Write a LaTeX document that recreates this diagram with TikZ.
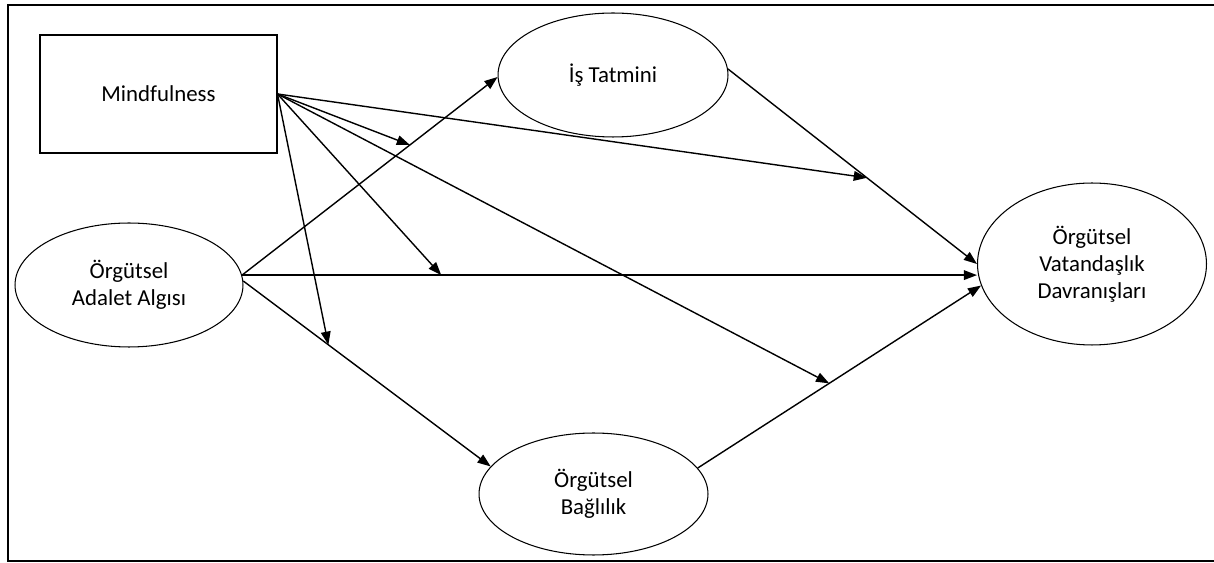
\documentclass[tikz,border=0pt]{standalone}
\usepackage{fontspec}
\setmainfont{Carlito}
\usetikzlibrary{arrows.meta,shapes.geometric}
\begin{document}
\begin{tikzpicture}[x=0.02cm,y=-0.02cm,
   var/.style={ellipse,draw,line width=0.6pt,inner sep=0pt,align=center,
      font=\fontsize{13}{15.5}\selectfont},
   box/.style={rectangle,draw,line width=0.6pt,inner sep=0pt,
      font=\fontsize{13}{15.5}\selectfont},
   link/.style={line width=0.8pt,-{Triangle[length=7.5pt,width=5.5pt]}}]
   \useasboundingbox (0,0) rectangle (1214,563);
   \draw[line width=1.2pt] (1214,5) -- (8,5) -- (8,561) -- (1214,561);
   % variables
   \node[box,minimum width=4.74cm,minimum height=2.36cm] (mind) at (158.5,94) {Mindfulness};
   \node[var,minimum width=4.56cm,minimum height=2.48cm] (adalet) at (129,285) {Örgütsel\\Adalet Algısı};
   \node[var,minimum width=4.6cm,minimum height=2.48cm] (tatmin) at (613,75) {İş Tatmini};
   \node[var,minimum width=4.58cm,minimum height=3.24cm] (ovd) at (1092,264) {Örgütsel\\Vatandaşlık\\Davranışları};
   \node[var,minimum width=4.58cm,minimum height=2.44cm] (baglilik) at (593.5,494) {Örgütsel\\Bağlılık};
   % direct paths
   \draw[link] (adalet.5) -- coordinate[pos=0.657] (m1) (tatmin.181);
   \draw[link] (adalet.5) -- coordinate[pos=0.271] (m4) (adalet.5 -| ovd.west);
   \draw[link] (adalet.2) -- coordinate[pos=0.344] (m5) (baglilik.165);
   \draw[link] (tatmin.3) -- coordinate[pos=0.558] (m2) (ovd.west);
   \draw[link] (baglilik.14) -- coordinate[pos=0.464] (m3) (ovd.191);
   % moderation by mindfulness
   \draw[link] (mind.east) -- (m1);
   \draw[link] (mind.east) -- (m2);
   \draw[link] (mind.east) -- (m3);
   \draw[link] (mind.east) -- (m4);
   \draw[link] (mind.east) -- (m5);
\end{tikzpicture}
\end{document}
